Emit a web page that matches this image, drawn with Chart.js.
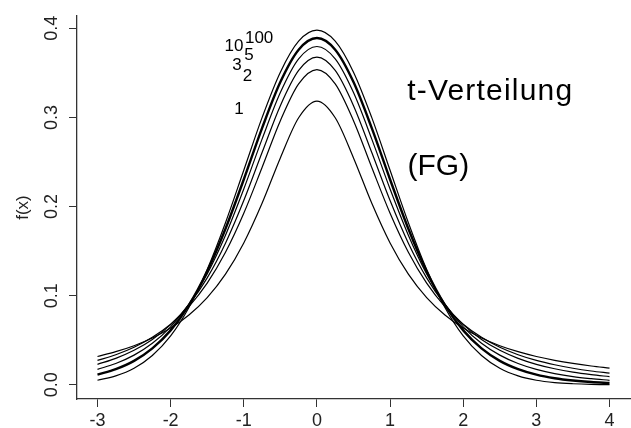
<!DOCTYPE html>
<html>
<head>
<meta charset="utf-8">
<script src="https://cdn.jsdelivr.net/npm/chart.js@4"></script>
<style>
  html, body { margin: 0; padding: 0; background: #fff; }
  #wrap { width: 631px; height: 428px; }
</style>
</head>
<body>
<div id="wrap"><canvas id="tChart" width="631" height="428"></canvas></div>
<script>
// x grid of the curves
const xValues = [-3, -2.75, -2.5, -2.25, -2, -1.75, -1.5, -1.25, -1, -0.75, -0.5, -0.25, 0,
  0.25, 0.5, 0.75, 1, 1.25, 1.5, 1.75, 2, 2.25, 2.5, 2.75, 3, 3.25, 3.5, 3.75, 4];

// f(x), one array per degree of freedom (FG)
const fg1 = [0.0318, 0.0372, 0.0439, 0.0525, 0.0637, 0.0784, 0.0979, 0.1242, 0.1592, 0.2037, 0.2546, 0.2996, 0.3183,
  0.2996, 0.2546, 0.2037, 0.1592, 0.1242, 0.0979, 0.0784, 0.0637, 0.0525, 0.0439, 0.0372, 0.0318, 0.0275, 0.0240, 0.0211, 0.0187];
const fg2 = [0.0274, 0.0338, 0.0422, 0.0533, 0.0680, 0.0878, 0.1141, 0.1487, 0.1925, 0.2438, 0.2963, 0.3376, 0.3536,
  0.3376, 0.2963, 0.2438, 0.1925, 0.1487, 0.1141, 0.0878, 0.0680, 0.0533, 0.0422, 0.0338, 0.0274, 0.0225, 0.0186, 0.0155, 0.0131];
const fg3 = [0.0230, 0.0297, 0.0387, 0.0509, 0.0675, 0.0900, 0.1200, 0.1589, 0.2067, 0.2606, 0.3132, 0.3527, 0.3676,
  0.3527, 0.3132, 0.2606, 0.2067, 0.1589, 0.1200, 0.0900, 0.0675, 0.0509, 0.0387, 0.0297, 0.0230, 0.0180, 0.0142, 0.0114, 0.0092];
const fg5 = [0.0173, 0.0239, 0.0333, 0.0466, 0.0651, 0.0905, 0.1245, 0.1679, 0.2197, 0.2757, 0.3279, 0.3657, 0.3796,
  0.3657, 0.3279, 0.2757, 0.2197, 0.1679, 0.1245, 0.0905, 0.0651, 0.0466, 0.0333, 0.0239, 0.0173, 0.0126, 0.0092, 0.0069, 0.0051];
const fg10 = [0.0114, 0.0176, 0.0269, 0.0409, 0.0611, 0.0895, 0.1274, 0.1751, 0.2304, 0.2880, 0.3397, 0.3760, 0.3891,
  0.3760, 0.3397, 0.2880, 0.2304, 0.1751, 0.1274, 0.0895, 0.0611, 0.0409, 0.0269, 0.0176, 0.0114, 0.0074, 0.0048, 0.0031, 0.0020];
const fg100 = [0.0051, 0.0100, 0.0186, 0.0329, 0.0549, 0.0868, 0.1294, 0.1819, 0.2408, 0.2998, 0.3508, 0.3856, 0.3979,
  0.3856, 0.3508, 0.2998, 0.2408, 0.1819, 0.1294, 0.0868, 0.0549, 0.0329, 0.0186, 0.0100, 0.0051, 0.0025, 0.0012, 0.0005, 0.0002];

const xTicks = [-3, -2, -1, 0, 1, 2, 3, 4];
const yTicks = [0, 0.1, 0.2, 0.3, 0.4];
const yTickLabels = ['0.0', '0.1', '0.2', '0.3', '0.4'];

// curve labels near the peak: [text, x, y]
const curveLabels = [['100', -0.79, 0.389], ['10', -1.135, 0.380], ['5', -0.93, 0.3696],
  ['3', -1.094, 0.358], ['2', -0.95, 0.346], ['1', -1.067, 0.3087]];

const font = "'Liberation Sans', Arial, Helvetica, sans-serif";
const axisColor = '#333';

function pts(ys) {
  return xValues.map((x, i) => ({ x: x, y: ys[i] }));
}

function curve(label, ys, width) {
  return {
    label: label,
    data: pts(ys),
    borderColor: '#000',
    borderWidth: width,
    pointRadius: 0,
    cubicInterpolationMode: 'monotone',
    fill: false
  };
}

// rotated y labels, axis title and text annotations
const textPlugin = {
  id: 'texts',
  afterDraw(chart) {
    const c = chart.ctx;
    const xs = chart.scales.x, ys = chart.scales.y;
    c.save();
    c.fillStyle = '#222';
    c.textAlign = 'center';
    c.textBaseline = 'middle';
    c.font = '18px ' + font;
    yTicks.forEach((v, i) => {
      c.save();
      c.translate(52, ys.getPixelForValue(v));
      c.rotate(-Math.PI / 2);
      c.fillText(yTickLabels[i], 0, 0);
      c.restore();
    });
    c.font = '17px ' + font;
    c.save();
    c.translate(23, (chart.chartArea.top + chart.chartArea.bottom) / 2);
    c.rotate(-Math.PI / 2);
    c.fillText('f(x)', 0, 0);
    c.restore();

    c.fillStyle = '#000';
    c.font = '17px ' + font;
    curveLabels.forEach(l => {
      c.fillText(l[0], xs.getPixelForValue(l[1]), ys.getPixelForValue(l[2]));
    });
    c.font = '30px ' + font;
    c.letterSpacing = '1.2px';
    c.fillText('t-Verteilung', xs.getPixelForValue(2.37), ys.getPixelForValue(0.329));
    c.letterSpacing = '0px';
    c.fillText('(FG)', xs.getPixelForValue(1.66), ys.getPixelForValue(0.2445));
    c.restore();
  }
};

new Chart(document.getElementById('tChart'), {
  type: 'line',
  data: {
    datasets: [
      curve('1', fg1, 1.2),
      curve('2', fg2, 1.2),
      curve('3', fg3, 1.2),
      curve('5', fg5, 1.2),
      curve('10', fg10, 2.4),
      curve('100', fg100, 1.2)
    ]
  },
  options: {
    responsive: false,
    animation: false,
    layout: { padding: { top: 16, right: 1, left: 0, bottom: 0 } },
    plugins: { legend: { display: false }, tooltip: { enabled: false } },
    scales: {
      x: {
        type: 'linear',
        min: -3.28,
        max: 4.28,
        afterBuildTicks: s => { s.ticks = xTicks.map(v => ({ value: v })); },
        afterFit: s => { s.height = 29; },
        grid: { drawOnChartArea: false, drawTicks: true, tickLength: 8, color: axisColor },
        border: { color: axisColor, width: 1.3 },
        ticks: { color: '#222', padding: 3, font: { family: font, size: 18 }, maxRotation: 0 }
      },
      y: {
        type: 'linear',
        min: -0.0159,
        max: 0.4138,
        afterBuildTicks: s => { s.ticks = yTicks.map(v => ({ value: v })); },
        afterFit: s => { s.width = 77; },
        grid: { drawOnChartArea: false, drawTicks: true, tickLength: 8, color: axisColor },
        border: { color: axisColor, width: 1.3 },
        ticks: { color: 'rgba(0,0,0,0)', font: { family: font, size: 18 } }
      }
    }
  },
  plugins: [textPlugin]
});
</script>
</body>
</html>
